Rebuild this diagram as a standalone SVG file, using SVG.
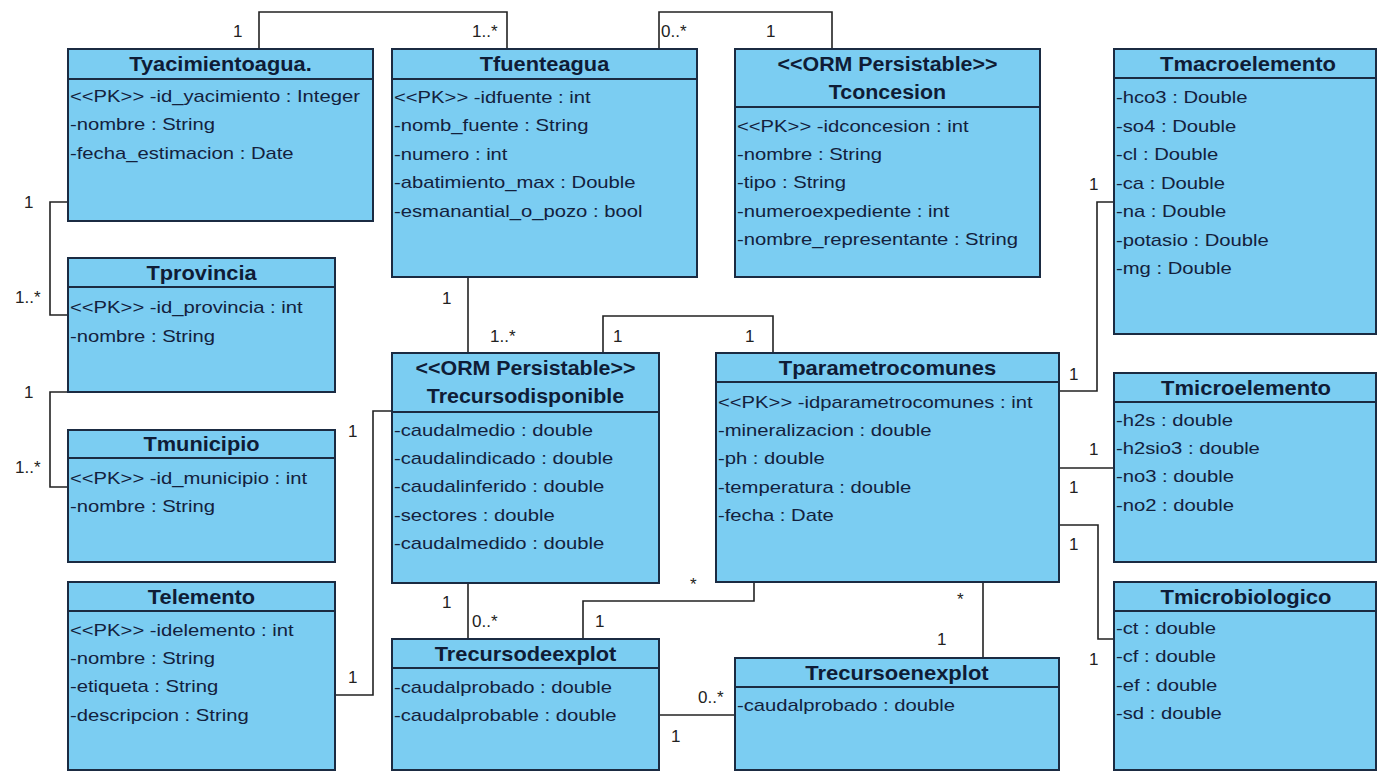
<svg xmlns="http://www.w3.org/2000/svg" width="1377" height="772" viewBox="0 0 1377 772">
  <style>
    .box { fill: #7bcdf2; stroke: #1b2b42; stroke-width: 2; }
    .sep { stroke: #1b2b42; stroke-width: 2; }
    .title { font-family: "Liberation Sans", Arial, sans-serif; font-size: 20px; font-weight: bold; fill: #0f1c36; text-anchor: middle; }
    .attr { font-family: "Liberation Sans", Arial, sans-serif; font-size: 17px; fill: #13213d; }
    .conn { fill: none; stroke: #222; stroke-width: 1.6; }
    .mult { font-family: "Liberation Sans", Arial, sans-serif; font-size: 17px; fill: #222; }
  </style>

  <rect width="1377" height="772" fill="#ffffff"/>

  <!-- associations -->
  <g id="connectors">
    <path class="conn" d="M259 49 V12 H507 V49"/>
    <path class="conn" d="M659 49 V12 H832 V49"/>
    <path class="conn" d="M68 202 H50 V315 H68"/>
    <path class="conn" d="M68 392 H50 V487 H68"/>
    <path class="conn" d="M335 695 H373 V411 H392"/>
    <path class="conn" d="M468 277 V353"/>
    <path class="conn" d="M603 353 V316 H773 V353"/>
    <path class="conn" d="M1059 391 H1097 V202 H1114"/>
    <path class="conn" d="M1059 468 H1114"/>
    <path class="conn" d="M1059 525 H1098 V639 H1114"/>
    <path class="conn" d="M468 583 V639"/>
    <path class="conn" d="M754 582 V601 H583 V639"/>
    <path class="conn" d="M983 582 V658"/>
    <path class="conn" d="M659 715 H735"/>

    <text class="mult" x="233" y="37">1</text>
    <text class="mult" x="472" y="37">1..*</text>
    <text class="mult" x="661" y="37">0..*</text>
    <text class="mult" x="766" y="37">1</text>
    <text class="mult" x="24" y="208">1</text>
    <text class="mult" x="15" y="303">1..*</text>
    <text class="mult" x="24" y="398">1</text>
    <text class="mult" x="15" y="473">1..*</text>
    <text class="mult" x="348" y="437">1</text>
    <text class="mult" x="348" y="683">1</text>
    <text class="mult" x="442" y="304">1</text>
    <text class="mult" x="490" y="342">1..*</text>
    <text class="mult" x="613" y="342">1</text>
    <text class="mult" x="745" y="342">1</text>
    <text class="mult" x="1089" y="190">1</text>
    <text class="mult" x="1069" y="380">1</text>
    <text class="mult" x="1089" y="455">1</text>
    <text class="mult" x="1069" y="493">1</text>
    <text class="mult" x="1069" y="550">1</text>
    <text class="mult" x="1089" y="665">1</text>
    <text class="mult" x="442" y="608">1</text>
    <text class="mult" x="472" y="627">0..*</text>
    <text class="mult" x="690" y="590">*</text>
    <text class="mult" x="595" y="627">1</text>
    <text class="mult" x="957" y="605">*</text>
    <text class="mult" x="937" y="645">1</text>
    <text class="mult" x="698" y="703">0..*</text>
    <text class="mult" x="671" y="742">1</text>
  </g>

  <!-- classes -->
  <g id="Tyacimientoagua">
    <rect class="box" x="68" y="49" width="305" height="172"/>
    <line class="sep" x1="68" y1="79" x2="373" y2="79"/>
    <g transform="translate(220.5 0) scale(1.09 1)"><text class="title" x="0" y="71">Tyacimientoagua.</text></g>
    <g transform="translate(70 0) scale(1.19 1)">
      <text class="attr" x="0" y="102">&lt;&lt;PK&gt;&gt; -id_yacimiento : Integer</text>
      <text class="attr" x="0" y="130">-nombre : String</text>
      <text class="attr" x="0" y="159">-fecha_estimacion : Date</text>
    </g>
  </g>

  <g id="Tfuenteagua">
    <rect class="box" x="392" y="49" width="305" height="228"/>
    <line class="sep" x1="392" y1="79" x2="697" y2="79"/>
    <g transform="translate(544.5 0) scale(1.09 1)"><text class="title" x="0" y="71">Tfuenteagua</text></g>
    <g transform="translate(394 0) scale(1.19 1)">
      <text class="attr" x="0" y="103">&lt;&lt;PK&gt;&gt; -idfuente : int</text>
      <text class="attr" x="0" y="131">-nomb_fuente : String</text>
      <text class="attr" x="0" y="160">-numero : int</text>
      <text class="attr" x="0" y="188">-abatimiento_max : Double</text>
      <text class="attr" x="0" y="217">-esmanantial_o_pozo : bool</text>
    </g>
  </g>

  <g id="Tconcesion">
    <rect class="box" x="735" y="49" width="305" height="228"/>
    <line class="sep" x1="735" y1="107" x2="1040" y2="107"/>
    <g transform="translate(887.5 0) scale(1.07 1)">
      <text class="title" x="0" y="71">&lt;&lt;ORM Persistable&gt;&gt;</text>
      <text class="title" x="0" y="99">Tconcesion</text>
    </g>
    <g transform="translate(737 0) scale(1.19 1)">
      <text class="attr" x="0" y="132">&lt;&lt;PK&gt;&gt; -idconcesion : int</text>
      <text class="attr" x="0" y="160">-nombre : String</text>
      <text class="attr" x="0" y="188">-tipo : String</text>
      <text class="attr" x="0" y="217">-numeroexpediente : int</text>
      <text class="attr" x="0" y="245">-nombre_representante : String</text>
    </g>
  </g>

  <g id="Tmacroelemento">
    <rect class="box" x="1114" y="49" width="262" height="285"/>
    <line class="sep" x1="1114" y1="78" x2="1376" y2="78"/>
    <g transform="translate(1248 0) scale(1.1 1)"><text class="title" x="0" y="71">Tmacroelemento</text></g>
    <g transform="translate(1116 0) scale(1.19 1)">
      <text class="attr" x="0" y="103">-hco3 : Double</text>
      <text class="attr" x="0" y="132">-so4 : Double</text>
      <text class="attr" x="0" y="160">-cl : Double</text>
      <text class="attr" x="0" y="189">-ca : Double</text>
      <text class="attr" x="0" y="217">-na : Double</text>
      <text class="attr" x="0" y="246">-potasio : Double</text>
      <text class="attr" x="0" y="274">-mg : Double</text>
    </g>
  </g>

  <g id="Tprovincia">
    <rect class="box" x="68" y="258" width="267" height="134"/>
    <line class="sep" x1="68" y1="287" x2="335" y2="287"/>
    <g transform="translate(201.5 0) scale(1.09 1)"><text class="title" x="0" y="280">Tprovincia</text></g>
    <g transform="translate(70 0) scale(1.19 1)">
      <text class="attr" x="0" y="313">&lt;&lt;PK&gt;&gt; -id_provincia : int</text>
      <text class="attr" x="0" y="342">-nombre : String</text>
    </g>
  </g>

  <g id="Tmunicipio">
    <rect class="box" x="68" y="430" width="267" height="132"/>
    <line class="sep" x1="68" y1="458" x2="335" y2="458"/>
    <g transform="translate(201.5 0) scale(1.09 1)"><text class="title" x="0" y="451">Tmunicipio</text></g>
    <g transform="translate(70 0) scale(1.19 1)">
      <text class="attr" x="0" y="484">&lt;&lt;PK&gt;&gt; -id_municipio : int</text>
      <text class="attr" x="0" y="512">-nombre : String</text>
    </g>
  </g>

  <g id="Telemento">
    <rect class="box" x="68" y="582" width="267" height="188"/>
    <line class="sep" x1="68" y1="611" x2="335" y2="611"/>
    <g transform="translate(201.5 0) scale(1.09 1)"><text class="title" x="0" y="604">Telemento</text></g>
    <g transform="translate(70 0) scale(1.19 1)">
      <text class="attr" x="0" y="636">&lt;&lt;PK&gt;&gt; -idelemento : int</text>
      <text class="attr" x="0" y="664">-nombre : String</text>
      <text class="attr" x="0" y="692">-etiqueta : String</text>
      <text class="attr" x="0" y="721">-descripcion : String</text>
    </g>
  </g>

  <g id="Trecursodisponible">
    <rect class="box" x="392" y="353" width="267" height="230"/>
    <line class="sep" x1="392" y1="412" x2="659" y2="412"/>
    <g transform="translate(525.5 0) scale(1.07 1)">
      <text class="title" x="0" y="375">&lt;&lt;ORM Persistable&gt;&gt;</text>
      <text class="title" x="0" y="403">Trecursodisponible</text>
    </g>
    <g transform="translate(394 0) scale(1.19 1)">
      <text class="attr" x="0" y="436">-caudalmedio : double</text>
      <text class="attr" x="0" y="464">-caudalindicado : double</text>
      <text class="attr" x="0" y="492">-caudalinferido : double</text>
      <text class="attr" x="0" y="521">-sectores : double</text>
      <text class="attr" x="0" y="549">-caudalmedido : double</text>
    </g>
  </g>

  <g id="Tparametrocomunes">
    <rect class="box" x="716" y="353" width="343" height="229"/>
    <line class="sep" x1="716" y1="382" x2="1059" y2="382"/>
    <g transform="translate(887.5 0) scale(1.1 1)"><text class="title" x="0" y="375">Tparametrocomunes</text></g>
    <g transform="translate(718 0) scale(1.19 1)">
      <text class="attr" x="0" y="408">&lt;&lt;PK&gt;&gt; -idparametrocomunes : int</text>
      <text class="attr" x="0" y="436">-mineralizacion : double</text>
      <text class="attr" x="0" y="464">-ph : double</text>
      <text class="attr" x="0" y="493">-temperatura : double</text>
      <text class="attr" x="0" y="521">-fecha : Date</text>
    </g>
  </g>

  <g id="Tmicroelemento">
    <rect class="box" x="1114" y="373" width="262" height="189"/>
    <line class="sep" x1="1114" y1="402" x2="1376" y2="402"/>
    <g transform="translate(1246 0) scale(1.1 1)"><text class="title" x="0" y="395">Tmicroelemento</text></g>
    <g transform="translate(1116 0) scale(1.19 1)">
      <text class="attr" x="0" y="426">-h2s : double</text>
      <text class="attr" x="0" y="454">-h2sio3 : double</text>
      <text class="attr" x="0" y="482">-no3 : double</text>
      <text class="attr" x="0" y="511">-no2 : double</text>
    </g>
  </g>

  <g id="Tmicrobiologico">
    <rect class="box" x="1114" y="582" width="262" height="188"/>
    <line class="sep" x1="1114" y1="611" x2="1376" y2="611"/>
    <g transform="translate(1246 0) scale(1.1 1)"><text class="title" x="0" y="604">Tmicrobiologico</text></g>
    <g transform="translate(1116 0) scale(1.19 1)">
      <text class="attr" x="0" y="634">-ct : double</text>
      <text class="attr" x="0" y="662">-cf : double</text>
      <text class="attr" x="0" y="691">-ef : double</text>
      <text class="attr" x="0" y="719">-sd : double</text>
    </g>
  </g>

  <g id="Trecursodeexplot">
    <rect class="box" x="392" y="639" width="267" height="131"/>
    <line class="sep" x1="392" y1="668" x2="659" y2="668"/>
    <g transform="translate(525.5 0) scale(1.09 1)"><text class="title" x="0" y="661">Trecursodeexplot</text></g>
    <g transform="translate(394 0) scale(1.19 1)">
      <text class="attr" x="0" y="693">-caudalprobado : double</text>
      <text class="attr" x="0" y="721">-caudalprobable : double</text>
    </g>
  </g>

  <g id="Trecursoenexplot">
    <rect class="box" x="735" y="658" width="324" height="112"/>
    <line class="sep" x1="735" y1="687" x2="1059" y2="687"/>
    <g transform="translate(897 0) scale(1.1 1)"><text class="title" x="0" y="680">Trecursoenexplot</text></g>
    <g transform="translate(737 0) scale(1.19 1)">
      <text class="attr" x="0" y="711">-caudalprobado : double</text>
    </g>
  </g>
</svg>
